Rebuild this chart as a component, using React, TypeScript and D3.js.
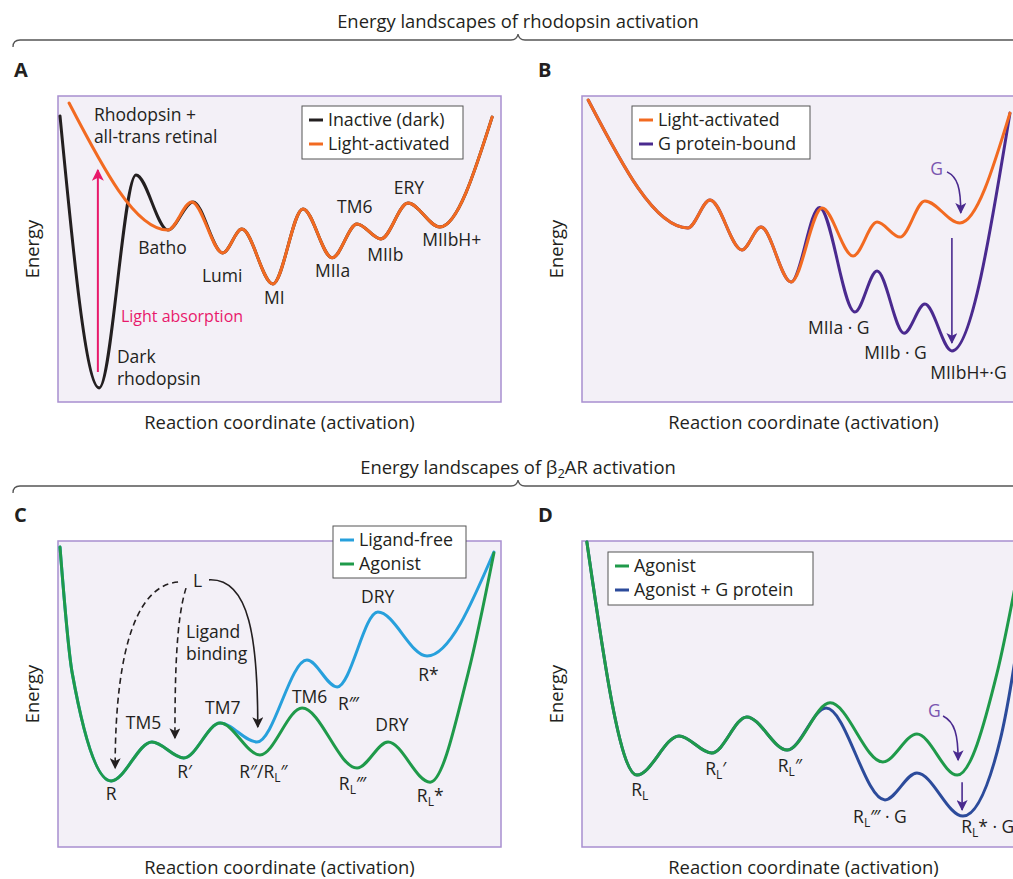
import React from 'react';
import * as d3 from 'd3';

type Pt = [number, number];

// reaction coordinate (0-100) vs energy (0-100)
const inactiveDark: Pt[] = [[0.45, 93.5], [9.3, 4.6], [17.6, 74.2], [24.8, 56.2], [30.5, 65.4], [37.2, 48.7], [41.5, 56.5], [48.5, 38.6], [55.3, 63.1], [61.9, 47.1], [67.5, 58.2], [72.9, 53.3], [79.0, 65.0], [86.2, 57.2], [98.0, 93.1]];
const lightActivatedA: Pt[] = [[2.5, 97.7], [24.8, 56.2], [30.2, 65.4], [37.2, 48.7], [41.5, 56.5], [48.5, 38.6], [55.3, 63.1], [61.9, 47.1], [67.5, 58.2], [72.9, 53.3], [79.0, 65.0], [86.2, 57.2], [98.0, 93.1]];

const lightActivatedB: Pt[] = [[1.4, 98.7], [23.9, 56.9], [28.9, 66.0], [36.1, 49.7], [40.4, 57.2], [47.2, 39.2], [54.2, 63.4], [61.2, 47.7], [66.6, 58.8], [71.8, 53.9], [77.4, 65.7], [85.3, 58.5], [96.6, 94.4]];
const gProteinBound: Pt[] = [[1.4, 98.7], [23.9, 56.9], [28.9, 66.0], [36.1, 49.7], [40.4, 57.2], [47.2, 39.2], [53.6, 63.6], [61.6, 29.4], [66.6, 42.8], [72.7, 22.5], [77.4, 32.0], [83.5, 16.7], [96.6, 94.4]];

const ligandFree: Pt[] = [[0.45, 98.0], [3.2, 56.9], [12.0, 21.6], [21.2, 34.3], [28.4, 29.1], [36.6, 40.5], [44.9, 34.3], [56.2, 61.1], [63.0, 52.3], [72.2, 76.8], [83.3, 62.4], [98.4, 96.4]];
const agonistC: Pt[] = [[0.45, 98.0], [3.2, 56.9], [12.0, 21.6], [21.2, 34.3], [28.4, 29.1], [36.6, 40.5], [45.6, 30.1], [55.1, 45.4], [67.5, 25.8], [74.5, 34.3], [84.0, 21.2], [92.6, 56.9], [98.4, 96.1]];

const agonistD: Pt[] = [[1.1, 99.7], [12.4, 23.5], [21.9, 36.3], [29.3, 30.7], [37.2, 42.5], [46.3, 31.7], [56.0, 47.1], [67.9, 27.8], [75.6, 36.9], [84.7, 23.5], [93.7, 56.9], [98.9, 93.8]];
const agonistGProtein: Pt[] = [[1.1, 99.7], [12.4, 23.5], [21.9, 36.3], [29.3, 30.7], [37.2, 42.5], [46.3, 31.7], [55.1, 45.4], [68.4, 15.4], [75.6, 24.2], [86.0, 10.1], [94.4, 35.0], [101, 93.8]];

type Lbl = { t: string; sub?: string; after?: string; x: number; e: number; color?: string; size?: number };

const labelsA: Lbl[] = [
  { t: 'Rhodopsin +', x: 8.1, e: 91.8 },
  { t: 'all-trans retinal', x: 8.1, e: 84.6 },
  { t: 'Batho', x: 18.1, e: 48.4 },
  { t: 'Lumi', x: 32.5, e: 39.2 },
  { t: 'MI', x: 46.5, e: 32.0 },
  { t: 'MIIa', x: 58.0, e: 40.8 },
  { t: 'TM6', x: 63.0, e: 61.8 },
  { t: 'MIIb', x: 69.8, e: 46.1 },
  { t: 'ERY', x: 75.8, e: 68.0 },
  { t: 'MIIbH+', x: 82.2, e: 51.0 },
  { t: 'Dark', x: 13.3, e: 12.7 },
  { t: 'rhodopsin', x: 13.3, e: 5.6 },
  { t: 'Light absorption', x: 14.2, e: 26.1, color: '#e8196b', size: 16 },
];
const labelsB: Lbl[] = [
  { t: 'MIIa · G', x: 51.0, e: 22.2 },
  { t: 'MIIb · G', x: 63.7, e: 14.1 },
  { t: 'MIIbH+·G', x: 78.6, e: 7.5 },
  { t: 'G', x: 78.6, e: 74.2, color: '#7a55b0' },
];
const labelsC: Lbl[] = [
  { t: 'L', x: 30.5, e: 85.0 },
  { t: 'Ligand', x: 28.9, e: 68.3 },
  { t: 'binding', x: 28.9, e: 61.1 },
  { t: 'TM5', x: 15.3, e: 38.6 },
  { t: 'TM7', x: 33.2, e: 43.5 },
  { t: 'TM6', x: 52.8, e: 47.1 },
  { t: 'DRY', x: 68.4, e: 79.7 },
  { t: 'DRY', x: 71.6, e: 37.9 },
  { t: 'R*', x: 81.3, e: 54.2 },
  { t: 'R‴', x: 63.2, e: 44.8 },
  { t: 'R', x: 10.8, e: 15.4 },
  { t: 'R′', x: 26.9, e: 22.5 },
  { t: 'R″/R', sub: 'L', after: '″', x: 40.9, e: 22.5 },
  { t: 'R', sub: 'L', after: '‴', x: 63.4, e: 18.6 },
  { t: 'R', sub: 'L', after: '*', x: 81.0, e: 14.7 },
];
const labelsD: Lbl[] = [
  { t: 'R', sub: 'L', x: 11.1, e: 16.7 },
  { t: 'R', sub: 'L', after: '′', x: 27.8, e: 23.5 },
  { t: 'R', sub: 'L', after: '″', x: 44.2, e: 24.5 },
  { t: 'R', sub: 'L', after: '‴ · G', x: 61.2, e: 7.8 },
  { t: 'R', sub: 'L', after: '* · G', x: 85.6, e: 4.6 },
  { t: 'G', x: 78.1, e: 42.5, color: '#7a55b0' },
];

const C = {
  black: '#231f20', orange: '#f26a21', purple: '#4a2a8f', pink: '#e8196b',
  blue: '#27a0dc', green: '#1f9a4a', navy: '#2c4b9b', boxFill: '#f3f0f7', boxStroke: '#a88fd0',
};
const FONT = '"Open Sans", "Noto Sans", sans-serif';
const FS = 17.5;

type Box = { x: number; y: number; w: number; h: number };
type Legend = { dx: number; dy: number; w: number; h: number; items: [string, string][] };
type Arrow = { pts: Pt[]; color: string; dashed?: boolean; marker: string };

function Label({ l, x, y }: { l: Lbl; x: number; y: number }) {
  const fs = l.size || FS;
  return (
    <text x={x} y={y} fill={l.color || C.black} fontSize={fs}>
      {l.t}
      {l.sub && <tspan dy={4} fontSize={12}>{l.sub}</tspan>}
      {l.sub && <tspan dy={-4} fontSize={fs}>{l.after || ''}</tspan>}
      {!l.sub && l.after}
    </text>
  );
}

function Panel({ box, letter, series, labels, legend, arrows }: {
  box: Box; letter: string; series: { data: Pt[]; color: string }[]; labels: Lbl[]; legend: Legend; arrows: Arrow[];
}) {
  const xs = d3.scaleLinear().domain([0, 100]).range([box.x, box.x + box.w]);
  const ys = d3.scaleLinear().domain([0, 100]).range([box.y + box.h, box.y]);
  const line = d3.line<Pt>().x(d => xs(d[0])).y(d => ys(d[1])).curve(d3.curveMonotoneX);
  const lx = box.x + legend.dx, ly = box.y + legend.dy;
  return (
    <g>
      <text x={box.x - 44} y={box.y - 19} fontSize={20} fontWeight="bold" fill={C.black}>{letter}</text>
      <rect x={box.x} y={box.y} width={box.w} height={box.h} fill={C.boxFill} stroke={C.boxStroke} strokeWidth={1.5} />
      <text transform={`translate(${box.x - 19},${box.y + box.h / 2}) rotate(-90)`} textAnchor="middle" fontSize={18.4} fill={C.black}>Energy</text>
      <text x={box.x + box.w / 2} y={box.y + box.h + 27} textAnchor="middle" fontSize={18.4} fill={C.black}>Reaction coordinate (activation)</text>
      {series.map((s, i) => (
        <path key={i} d={line(s.data) || ''} fill="none" stroke={s.color} strokeWidth={3} strokeLinecap="round" />
      ))}
      {arrows.map((a, i) => {
        const p = a.pts.map(q => [xs(q[0]), ys(q[1])]);
        const d = p.length === 4
          ? `M${p[0]}C${p[1]} ${p[2]} ${p[3]}`
          : `M${p[0]}L${p[1]}`;
        return <path key={i} d={d} fill="none" stroke={a.color} strokeWidth={a.marker === 'pink' ? 2 : 1.6}
          strokeDasharray={a.dashed ? '6 4' : undefined} markerEnd={`url(#ah-${a.marker})`} />;
      })}
      {labels.map((l, i) => <Label key={i} l={l} x={xs(l.x)} y={ys(l.e)} />)}
      <rect x={lx} y={ly} width={legend.w} height={legend.h} fill="#fff" stroke="#555" strokeWidth={1} />
      {legend.items.map(([name, color], i) => (
        <g key={name}>
          <line x1={lx + 7} x2={lx + 21} y1={ly + 14 + i * 24} y2={ly + 14 + i * 24} stroke={color} strokeWidth={3} />
          <text x={lx + 26} y={ly + 20 + i * 24} fontSize={17.8} fill={C.black}>{name}</text>
        </g>
      ))}
    </g>
  );
}

function Brace({ y, label }: { y: number; label: React.ReactNode }) {
  const d = `M13,${y + 7} Q13,${y} 20,${y} L511,${y} Q517,${y} 518,${y - 6} Q519,${y} 525,${y} L1013,${y}`;
  return (
    <g>
      <text x={518} y={y - 12} textAnchor="middle" fontSize={18.4} fill={C.black}>{label}</text>
      <path d={d} fill="none" stroke="#555" strokeWidth={1.3} />
    </g>
  );
}

function Marker({ id, color, w, l }: { id: string; color: string; w: number; l: number }) {
  return (
    <marker id={`ah-${id}`} viewBox="0 0 10 10" refX={9} refY={5} markerWidth={l} markerHeight={w}
      markerUnits="userSpaceOnUse" orient="auto">
      <path d="M0,0 L10,5 L0,10 L2.5,5 z" fill={color} />
    </marker>
  );
}

export default function App() {
  const boxA = { x: 58, y: 96, w: 443, h: 306 };
  const boxB = { x: 582, y: 96, w: 443, h: 306 };
  const boxC = { x: 58, y: 541, w: 443, h: 306 };
  const boxD = { x: 582, y: 541, w: 443, h: 306 };
  return (
    <svg width={1013} height={879} style={{ position: 'absolute', left: 0, top: 0, background: '#fff' }} fontFamily={FONT}>
      <defs>
        <Marker id="pink" color={C.pink} w={12} l={18} />
        <Marker id="purple" color={C.purple} w={11} l={15} />
        <Marker id="black" color={C.black} w={11} l={15} />
      </defs>
      <Brace y={40} label="Energy landscapes of rhodopsin activation" />
      <Brace y={486} label={<>Energy landscapes of β<tspan dy={4} fontSize={13}>2</tspan><tspan dy={-4}>AR activation</tspan></>} />
      <Panel box={boxA} letter="A" labels={labelsA}
        series={[{ data: inactiveDark, color: C.black }, { data: lightActivatedA, color: C.orange }]}
        legend={{ dx: 244, dy: 10, w: 161, h: 53, items: [['Inactive (dark)', C.black], ['Light-activated', C.orange]] }}
        arrows={[{ pts: [[9.0, 9.8], [9.0, 75.8]], color: C.pink, marker: 'pink' }]} />
      <Panel box={boxB} letter="B" labels={labelsB}
        series={[{ data: gProteinBound, color: C.purple }, { data: lightActivatedB, color: C.orange }]}
        legend={{ dx: 50, dy: 10, w: 178, h: 53, items: [['Light-activated', C.orange], ['G protein-bound', C.purple]] }}
        arrows={[
          { pts: [[82.4, 75.2], [84.8, 73.5], [85.5, 70.0], [85.5, 61.8]], color: C.purple, marker: 'purple' },
          { pts: [[83.5, 53.6], [83.5, 19.3]], color: C.purple, marker: 'purple' },
        ]} />
      <Panel box={boxC} letter="C" labels={labelsC}
        series={[{ data: ligandFree, color: C.blue }, { data: agonistC, color: C.green }]}
        legend={{ dx: 275, dy: -15, w: 133, h: 52, items: [['Ligand-free', C.blue], ['Agonist', C.green]] }}
        arrows={[
          { pts: [[27.1, 86.6], [18.5, 85.6], [12.9, 67.6], [12.9, 25.8]], color: C.black, dashed: true, marker: 'black' },
          { pts: [[28.9, 84.6], [26.6, 74.2], [26.4, 54.6], [26.4, 35.6]], color: C.black, dashed: true, marker: 'black' },
          { pts: [[34.1, 87.3], [43.3, 87.9], [45.1, 67.6], [45.1, 39.2]], color: C.black, marker: 'black' },
        ]} />
      <Panel box={boxD} letter="D" labels={labelsD}
        series={[{ data: agonistGProtein, color: C.navy }, { data: agonistD, color: C.green }]}
        legend={{ dx: 26, dy: 11, w: 205, h: 53, items: [['Agonist', C.green], ['Agonist + G protein', C.navy]] }}
        arrows={[
          { pts: [[81.5, 42.8], [84.2, 40.8], [84.9, 36.6], [84.9, 28.4]], color: C.purple, marker: 'purple' },
          { pts: [[85.8, 21.2], [85.8, 12.1]], color: C.purple, marker: 'purple' },
        ]} />
    </svg>
  );
}
